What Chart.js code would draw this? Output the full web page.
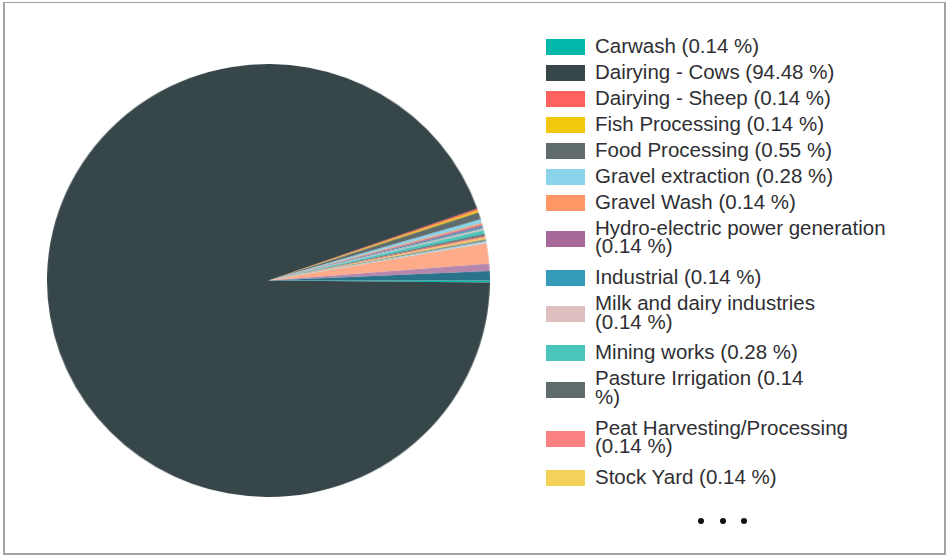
<!DOCTYPE html>
<html>
<head>
<meta charset="utf-8">
<script src="https://cdn.jsdelivr.net/npm/chart.js@4.4.1/dist/chart.umd.min.js"></script>
<style>
  html, body { margin: 0; padding: 0; background: #fff; }
  body { width: 947px; height: 556px; position: relative; overflow: hidden; }
  #frame {
    position: absolute; left: 3px; top: 2px; width: 943px; height: 553px;
    box-sizing: border-box; border: 2px solid #a3a3a3; border-top-width: 1.5px;
  }
  /* the pie is drawn slightly wider than tall */
  #pieWrap {
    position: absolute; left: 46.7px; top: 64px; width: 437px; height: 437px;
    transform-origin: 0 0; transform: scale(1.0133, 0.9908);
  }
  #legend {
    position: absolute; left: 546px; top: 33.7px; width: 390px;
    font-family: "Liberation Sans", Arial, sans-serif; font-size: 20.5px; color: #2f2f33;
  }
  .item { position: relative; height: 26px; }
  .item.two { height: 49.3px; }
  .swatch { position: absolute; left: 0; width: 39px; height: 16px; top: 5px; }
  .item.two .swatch { top: 15.3px; }
  .label { position: absolute; left: 49px; top: 3px; line-height: 18.7px; white-space: nowrap; }
  #more { position: absolute; top: 517.5px; left: 697.5px; height: 6px; }
  #more span {
    position: absolute; top: 0; width: 6px; height: 6px; border-radius: 50%; background: #111;
  }
</style>
</head>
<body>
<div id="frame"></div>
<div id="pieWrap"><canvas id="pie" width="437" height="437"></canvas></div>
<div id="legend"></div>
<div id="more"><span style="left:0px"></span><span style="left:22px"></span><span style="left:43.5px"></span></div>

<script>
// Discharge consents by activity type (number of consents)
const categories = [
  'Carwash',
  'Dairying - Cows',
  'Dairying - Sheep',
  'Fish Processing',
  'Food Processing',
  'Gravel extraction',
  'Gravel Wash',
  'Hydro-electric power generation',
  'Industrial',
  'Milk and dairy industries',
  'Mining works',
  'Pasture Irrigation',
  'Peat Harvesting/Processing',
  'Stock Yard',
  'Stormwater',
  'Tannery',
  'Wastewater Treatment',
  'Water Supply',
  'Wool Scouring'
];
const counts = [1, 685, 1, 1, 4, 2, 1, 1, 1, 1, 2, 1, 1, 1, 1, 1, 11, 4, 5];
const colors = [
  '#01B8AA', '#374649', '#FD625E', '#F2C80F', '#5F6B6D', '#8AD4EB', '#FE9666',
  '#A66999', '#3599B8', '#DFBFBF', '#4AC5BB', '#5F6B6D', '#FB8281', '#F4D25A',
  '#7F898A', '#A4DDEE', '#FDAB89', '#B687AC', '#28738A'
];

// Legend page 1 shows the first 14 entries; long labels wrap before the given token
const legendPageSize = 14;
const legendWrapBefore = {
  'Hydro-electric power generation': '(',
  'Milk and dairy industries': '(',
  'Pasture Irrigation': '%)',
  'Peat Harvesting/Processing': '('
};

const total = counts.reduce((a, b) => a + b, 0);
const pctText = v => (v / total * 100).toFixed(2) + ' %';

new Chart(document.getElementById('pie'), {
  type: 'pie',
  data: {
    labels: categories,
    datasets: [{
      data: counts,
      backgroundColor: colors,
      borderWidth: 0,
      hoverBorderWidth: 0,
      hoverOffset: 0,
      offset: 0
    }]
  },
  options: {
    responsive: false,
    animation: false,
    rotation: 90,
    layout: { padding: 0 },
    plugins: {
      legend: { display: false },
      tooltip: { enabled: false }
    }
  }
});

// Right-hand legend
const legend = document.getElementById('legend');
categories.slice(0, legendPageSize).forEach((name, i) => {
  const full = name + ' (' + pctText(counts[i]) + ')';
  let lines = [full];
  const tok = legendWrapBefore[name];
  if (tok) {
    const k = full.lastIndexOf(' ' + tok);
    lines = [full.slice(0, k), full.slice(k + 1)];
  }
  const item = document.createElement('div');
  item.className = 'item' + (lines.length > 1 ? ' two' : '');
  const sw = document.createElement('div');
  sw.className = 'swatch';
  sw.style.background = colors[i];
  const lb = document.createElement('div');
  lb.className = 'label';
  lines.forEach((t, j) => {
    if (j) lb.appendChild(document.createElement('br'));
    lb.appendChild(document.createTextNode(t));
  });
  item.appendChild(sw);
  item.appendChild(lb);
  legend.appendChild(item);
});
</script>
</body>
</html>
